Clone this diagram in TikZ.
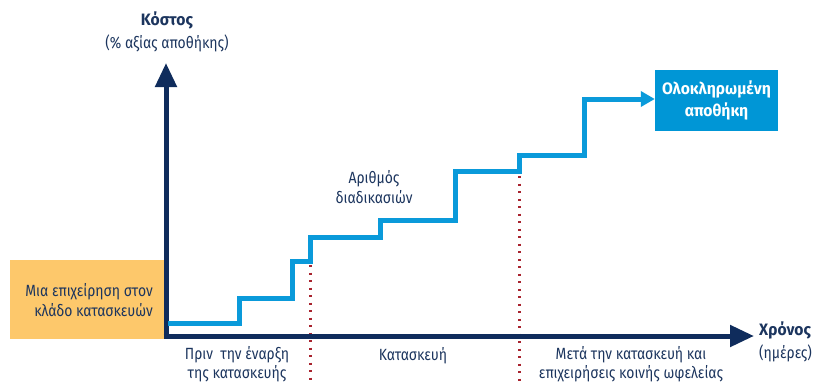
\documentclass[tikz,border=0pt]{standalone}
\usepackage{fontspec}
\setmainfont{Fira Sans}[FakeStretch=0.86]
\newfontfamily\headfont{Fira Sans}[FakeStretch=0.95]
\usetikzlibrary{arrows.meta}
\definecolor{navy}{HTML}{0F2C5C}
\definecolor{textnavy}{HTML}{1C355E}
\definecolor{stepblue}{HTML}{0A9ADA}
\definecolor{boxblue}{HTML}{0096D6}
\definecolor{sectororange}{HTML}{FDC86B}
\definecolor{dotred}{HTML}{A8232E}
\tikzset{
  lbl/.style={text=textnavy, font=\fontsize{16.2}{20}\selectfont, align=center, inner sep=0pt},
  head/.style={lbl, font=\fontsize{16.5}{20}\selectfont\headfont\bfseries},
  axis/.style={navy, line width=5pt, -{Triangle[width=21pt,length=24pt]}},
  stair/.style={stepblue, line width=5pt, line join=miter, -{Triangle[width=15pt,length=14pt]}},
  phase/.style={dotred, line width=2.2pt, dash pattern=on 2.2pt off 5.3pt}
}
\begin{document}
\begin{tikzpicture}[x=1pt, y=-1pt]
\useasboundingbox (0,0) rectangle (813,383);
\def \xaxis {166}
\def \yaxis {336}
\def \xend {754}
\def \ytip {63}
\def \xa {239.5}
\def \xb {292.5}
\def \xc {310.5}
\def \xd {380.5}
\def \xe {455.5}
\def \xf {519.5}
\def \xg {584.5}

% sector box
\fill [sectororange] (10,260) rectangle (\xaxis,339);
\node [lbl, align=right, anchor=east] (sector) at (153,300) {Μια επιχείρηση στον\\κλάδο κατασκευών};

% phase borders
\coordinate (p1top) at (\xc,265);
\coordinate (p1bot) at (\xc,383);
\coordinate (p2top) at (\xf,176);
\coordinate (p2bot) at (\xf,383);
\draw [phase] (p1top) -- (p1bot);
\draw [phase] (p2top) -- (p2bot);

% axes
\coordinate (origin) at (\xaxis,\yaxis);
\coordinate (ymax) at (\xaxis,\ytip);
\coordinate (xmax) at (\xend,\yaxis);
\draw [axis] ([yshift=2.5pt]origin) -- (ymax);
\draw [axis] ([xshift=-2.5pt]origin) -- (xmax);

% target
\node [fill=boxblue, text=white, font=\fontsize{16.5}{22}\selectfont\headfont\bfseries, align=center,
       minimum width=123pt, minimum height=61pt, inner sep=0pt] (store) at (716.5,100.5) {Ολοκληρωμένη\\αποθήκη};

% stairs
\draw [stair] (168,323) -- (\xa,323) -- (\xa,298) -- (\xb,298) -- (\xb,261) -- (\xc,261)
  -- (\xc,237) -- (\xd,237) -- (\xd,220) -- (\xe,220) -- (\xe,171) -- (\xf,171)
  -- (\xf,155) -- (\xg,155) -- (\xg,99) -- (store.west |- 0,99);

% axis labels
\node [head] (cost) at (167,20) {Κόστος};
\node [lbl] (costunit) at (167,43) {(\% αξίας αποθήκης)};
\node [head, anchor=west] (time) at (759,330) {Χρόνος};
\node [lbl, anchor=west] (timeunit) at (759,353) {(ημέρες)};

% phases
\node [lbl, font=\fontsize{16.2}{19}\selectfont] (before) at (237,364) {Πριν\ \ την έναρξη\\της κατασκευής};
\node [lbl] (build) at (413,356) {Κατασκευή};
\node [lbl, font=\fontsize{16.2}{19}\selectfont] (after) at (631,364) {Μετά την κατασκευή και\\επιχειρήσεις κοινής ωφελείας};
\node [lbl] (procs) at (374,187) {Αριθμός\\διαδικασιών};
\end{tikzpicture}
\end{document}
